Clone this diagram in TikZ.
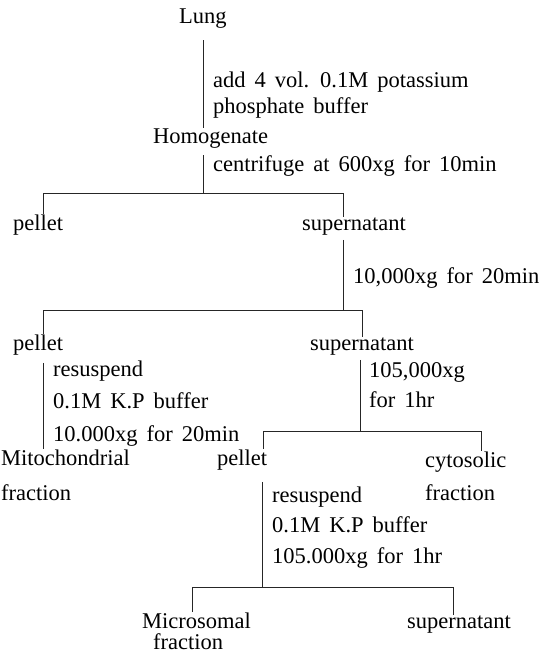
\documentclass[tikz,border=0pt]{standalone}
\usepackage{fontspec}
\setmainfont{Liberation Serif}[WordSpace=1.6]
\usepackage{tikz}
\usetikzlibrary{
    calc,
    positioning
}
\tikzset{
    lbl/.style={inner sep=0pt, anchor=base west, font=\fontsize{22.5}{31}\selectfont},
    note/.style={lbl, align=left},
    lnk/.style={line width=0.7pt, black!85}
}

\begin{document}
\begin{tikzpicture}[x=1pt,y=-1pt]
    \useasboundingbox (0,0) rectangle (541,654);

    % stages (multi-line nodes sit on their last baseline)
    \draw (179,23) node[lbl](lung){Lung};
    \draw (153,143) node[lbl](homog){Homogenate};
    \draw (13,230) node[lbl](pel1){pellet};
    \draw (302,230) node[lbl](sup1){supernatant};
    \draw (13,350) node[lbl](pel2){pellet};
    \draw (310,350) node[lbl](sup2){supernatant};
    \draw (1,500) node[note, font=\fontsize{22.5}{35}\selectfont](mito){Mitochondrial\\fraction};
    \draw (217,465) node[lbl](pel3){pellet};
    \draw (425,500) node[note, font=\fontsize{22.5}{33}\selectfont](cyto){cytosolic\\fraction};
    \draw (142,649) node[note, font=\fontsize{22.5}{21}\selectfont](micro){Microsomal\\\hspace*{11pt}fraction};
    \draw (407,628) node[lbl](sup3){supernatant};

    % conditions
    \draw (213,113) node[note, font=\fontsize{22.5}{26}\selectfont](step1){add 4 vol. 0.1M potassium\\phosphate buffer};
    \draw (213,171) node[lbl](step2){centrifuge at 600xg for 10min};
    \draw (353,283) node[lbl](step3){10,000xg for 20min};
    \draw (53,441) node[note, font=\fontsize{22.5}{32.5}\selectfont](step4){resuspend\\0.1M K.P buffer\\10.000xg for 20min};
    \draw (369,407) node[note, font=\fontsize{22.5}{30}\selectfont](step5){105,000xg\\for 1hr};
    \draw (272,563) node[note, font=\fontsize{22.5}{30.5}\selectfont](step6){resuspend\\0.1M K.P buffer\\105.000xg for 1hr};

    \coordinate (b1) at (203,193);
    \coordinate (b1l) at (43,193);
    \coordinate (b1r) at (343,193);
    \coordinate (b2s) at (343,310);
    \coordinate (b2l) at (43,310);
    \coordinate (b2r) at (362,310);
    \coordinate (b3s) at (360,431);
    \coordinate (b3l) at (263,431);
    \coordinate (b3r) at (481,431);
    \coordinate (b4s) at (262,587);
    \coordinate (b4l) at (192,587);
    \coordinate (b4r) at (453,587);

    \draw[lnk, shorten <=12pt] (lung.south -| b1) -- (homog.north -| b1);
    \draw[lnk, shorten <=7pt] (homog.south -| b1) -- (b1);
    \draw[lnk] (pel1.north -| b1l) -- (b1l) -- (b1r) -- (sup1.north -| b1r);

    \draw[lnk, shorten <=5pt] (sup1.south -| b2s) -- (b2s);
    \draw[lnk] (pel2.north -| b2l) -- (b2l) -- (b2r) -- (sup2.north -| b2r);

    \draw[lnk, shorten <=8pt] (pel2.south -| b2l) -- (mito.north -| b2l);
    \draw[lnk, shorten <=5pt] (sup2.south -| b3s) -- (b3s);
    \draw[lnk] (pel3.north -| b3l) -- (b3l) -- (b3r) -- (cyto.north -| b3r);

    \draw[lnk, shorten <=12pt] (pel3.south -| b4s) -- (b4s);
    \draw[lnk] (micro.north -| b4l) -- (b4l) -- (b4r) -- (sup3.north -| b4r);
\end{tikzpicture}
\end{document}
